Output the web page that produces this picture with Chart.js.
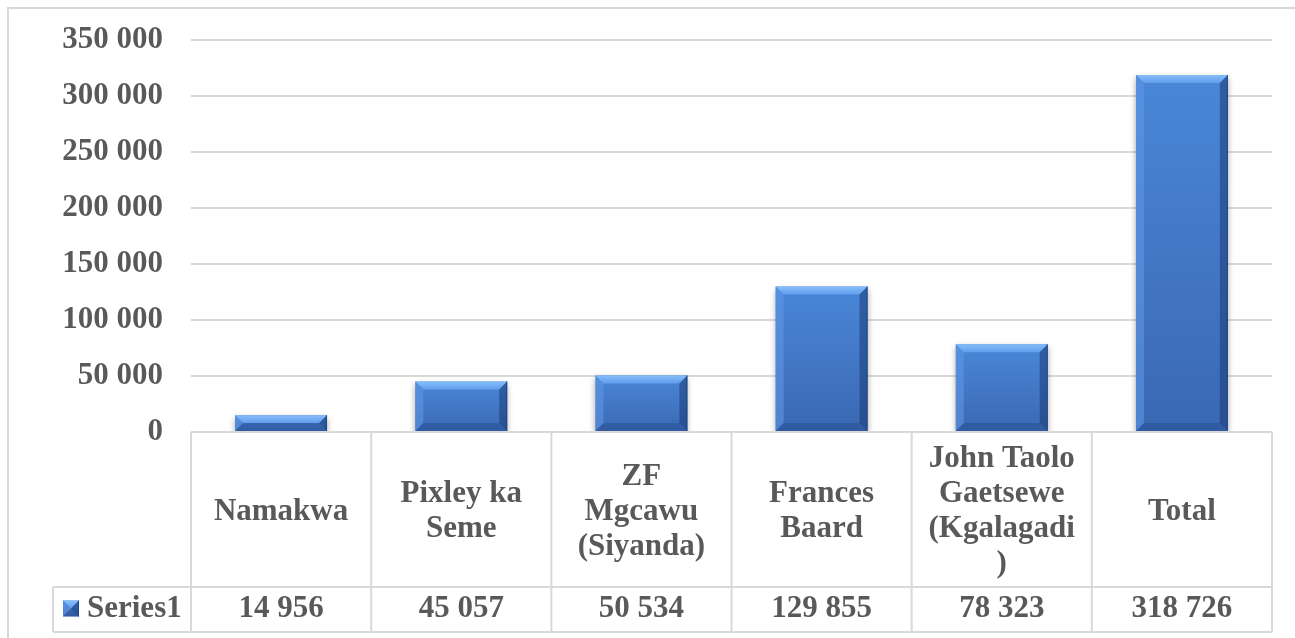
<!DOCTYPE html>
<html>
<head>
<meta charset="utf-8">
<script src="https://cdn.jsdelivr.net/npm/chart.js@4"></script>
<style>
  html, body { margin: 0; padding: 0; background: #ffffff; }
  #wrap { width: 1295px; height: 638px; position: relative; }
</style>
</head>
<body>
<div id="wrap"><canvas id="chart"></canvas></div>
<script>
// Chart data
const categories = [
  ["Namakwa"],
  ["Pixley ka", "Seme"],
  ["ZF", "Mgcawu", "(Siyanda)"],
  ["Frances", "Baard"],
  ["John Taolo", "Gaetsewe", "(Kgalagadi", ")"],
  ["Total"]
];
const seriesName = "Series1";
const seriesValues = [14956, 45057, 50534, 129855, 78323, 318726];
const yTicks = [0, 50000, 100000, 150000, 200000, 250000, 300000, 350000];

const textColor = "#595959";
const lineColor = "#d9d9d9";
const fontFamily = "'Liberation Serif', 'Times New Roman', serif";
const fontSize = 31;

function formatNumber(n) {
  return String(n).replace(/\B(?=(\d{3})+(?!\d))/g, " ");
}

function barGradient(ctx, top, bottom) {
  let g = ctx.createLinearGradient(0, top, 0, bottom);
  g.addColorStop(0, "#4a87d8");
  g.addColorStop(1, "#3a68b3");
  return g;
}

// draws the bevel edges on a rectangle like the Excel shape style
function drawBevel(ctx, L, T, R, B) {
  let b = Math.min(8, (B - T) / 2, (R - L) / 2);
  ctx.save();
  // top
  ctx.beginPath();
  ctx.moveTo(L, T); ctx.lineTo(R, T); ctx.lineTo(R - b, T + b); ctx.lineTo(L + b, T + b); ctx.closePath();
  let g = ctx.createLinearGradient(0, T, 0, T + b);
  g.addColorStop(0, "rgba(135,190,250,1)");
  g.addColorStop(1, "rgba(100,160,238,0.9)");
  ctx.fillStyle = g;
  ctx.fill();
  // left
  ctx.beginPath();
  ctx.moveTo(L, T); ctx.lineTo(L + b, T + b); ctx.lineTo(L + b, B - b); ctx.lineTo(L, B); ctx.closePath();
  ctx.fillStyle = "rgba(95,150,228,0.6)";
  ctx.fill();
  // right
  ctx.beginPath();
  ctx.moveTo(R, T); ctx.lineTo(R, B); ctx.lineTo(R - b, B - b); ctx.lineTo(R - b, T + b); ctx.closePath();
  ctx.fillStyle = "rgba(25,60,120,0.55)";
  ctx.fill();
  // bottom
  ctx.beginPath();
  ctx.moveTo(L, B); ctx.lineTo(R, B); ctx.lineTo(R - b, B - b); ctx.lineTo(L + b, B - b); ctx.closePath();
  ctx.fillStyle = "rgba(25,60,120,0.3)";
  ctx.fill();
  // dark outline on the right side
  ctx.strokeStyle = "rgba(30,65,125,0.8)";
  ctx.lineWidth = 1;
  ctx.beginPath();
  ctx.moveTo(R - 0.5, T); ctx.lineTo(R - 0.5, B);
  ctx.stroke();
  ctx.restore();
}

// shadow under the bars
const shadowPlugin = {
  id: "barShadow",
  beforeDatasetsDraw(chart) {
    let ctx = chart.ctx;
    ctx.save();
    ctx.shadowColor = "rgba(0,0,0,0.35)";
    ctx.shadowBlur = 6;
    ctx.shadowOffsetY = 3;
  },
  afterDatasetsDraw(chart) {
    chart.ctx.restore();
    let meta = chart.getDatasetMeta(0);
    meta.data.forEach(bar => {
      let p = bar.getProps(["x", "y", "width", "base"], true);
      drawBevel(chart.ctx, p.x - p.width / 2, p.y, p.x + p.width / 2, p.base);
    });
  }
};

// data table under the plot area plus the outer border
const tablePlugin = {
  id: "dataTable",
  afterDraw(chart) {
    let ctx = chart.ctx;
    let area = chart.chartArea;
    let x = chart.scales.x;
    let n = categories.length;
    let colW = (area.right - area.left) / n;
    let top = area.bottom;
    let mid = 587;
    let bottom = 632;
    let labelLeft = 53;

    ctx.save();
    ctx.strokeStyle = lineColor;
    ctx.lineWidth = 2;

    // outer chart border
    ctx.beginPath();
    ctx.moveTo(8, chart.height);
    ctx.lineTo(8, 8);
    ctx.lineTo(chart.width, 8);
    ctx.stroke();

    ctx.beginPath();
    ctx.moveTo(area.left, top); ctx.lineTo(area.right, top);
    ctx.moveTo(labelLeft, mid); ctx.lineTo(area.right, mid);
    ctx.moveTo(labelLeft, bottom); ctx.lineTo(area.right, bottom);
    ctx.moveTo(labelLeft, mid); ctx.lineTo(labelLeft, bottom);
    for (let i = 0; i <= n; i++) {
      let cx = area.left + i * colW;
      ctx.moveTo(cx, top); ctx.lineTo(cx, bottom);
    }
    ctx.stroke();

    ctx.fillStyle = textColor;
    ctx.font = "bold " + fontSize + "px " + fontFamily;
    ctx.textAlign = "center";
    ctx.textBaseline = "middle";
    let lineH = 35;
    let catMid = (top + mid) / 2 + 2;
    let valMid = (mid + bottom) / 2 - 1;
    categories.forEach((lines, i) => {
      let cx = x.getPixelForValue(i);
      let startY = catMid - (lines.length - 1) * lineH / 2;
      lines.forEach((line, j) => {
        ctx.fillText(line, cx, startY + j * lineH);
      });
      ctx.fillText(formatNumber(seriesValues[i]), cx, valMid);
    });

    // legend key + series name
    let kx = 63, ky = valMid - 8, ks = 16;
    ctx.fillStyle = barGradient(ctx, ky, ky + ks);
    ctx.fillRect(kx, ky, ks, ks);
    drawBevel(ctx, kx, ky, kx + ks, ky + ks);
    ctx.fillStyle = textColor;
    ctx.textAlign = "left";
    ctx.fillText(seriesName, 87, valMid);
    ctx.restore();
  }
};

const chart = new Chart(document.getElementById("chart").getContext("2d"), {
  type: "bar",
  data: {
    labels: categories.map(c => c.join(" ")),
    datasets: [{
      label: seriesName,
      data: seriesValues,
      backgroundColor: function(context) {
        let c = context.chart;
        if (!c.chartArea) return "#4a80cc";
        let y = c.scales.y;
        return barGradient(c.ctx, y.getPixelForValue(context.raw), y.getPixelForValue(0));
      },
      borderWidth: 0,
      categoryPercentage: 1,
      barPercentage: 0.51
    }]
  },
  options: {
    responsive: true,
    maintainAspectRatio: false,
    animation: false,
    layout: {
      padding: { left: 0, right: 23, top: 40, bottom: 206 }
    },
    plugins: {
      legend: { display: false },
      tooltip: { enabled: false }
    },
    scales: {
      x: { display: false },
      y: {
        min: 0,
        max: 350000,
        afterFit: function(scale) {
          scale.width = 191;
          // tick padding should not push the plot area down
          scale.paddingTop = 0;
          scale.paddingBottom = 0;
        },
        afterBuildTicks: function(scale) { scale.ticks = yTicks.map(v => ({ value: v })); },
        border: { display: false },
        grid: { color: lineColor, lineWidth: 2, drawTicks: false },
        ticks: {
          padding: 28,
          color: textColor,
          font: { family: fontFamily, size: fontSize, weight: "bold" },
          callback: function(value) { return formatNumber(value); }
        }
      }
    }
  },
  plugins: [shadowPlugin, tablePlugin]
});
</script>
</body>
</html>
